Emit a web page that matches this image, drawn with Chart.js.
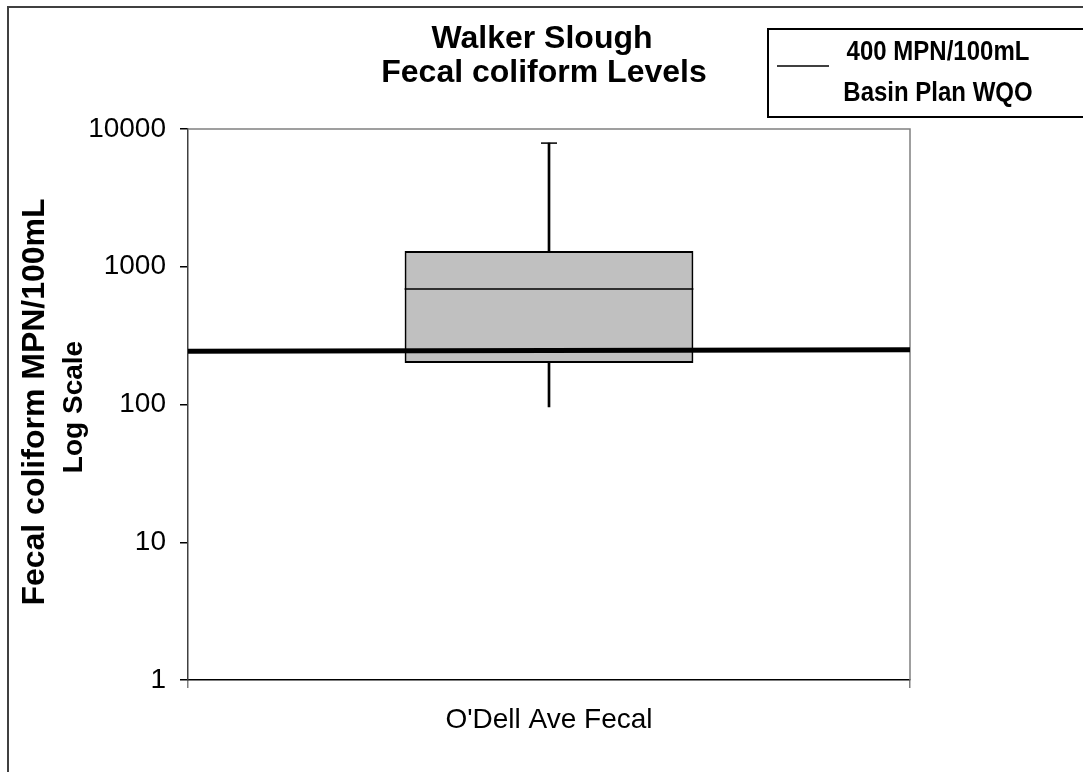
<!DOCTYPE html>
<html lang="en">
<head>
  <meta charset="UTF-8">
  <title>Walker Slough Fecal coliform Levels</title>
  <script src="https://cdn.jsdelivr.net/npm/chart.js"></script>
  <style>
    html, body { margin: 0; padding: 0; background: #fff; }
    canvas { display: block; }
  </style>
</head>
<body>
  <canvas id="chart" width="1083" height="772"></canvas>

  <script>
    // data
    const categories = ["O'Dell Ave Fecal"];
    const whiskerLow = [96];
    const q1 = [200];
    const median = [690];
    const q3 = [1300];
    const whiskerHigh = [7900];
    const yTicks = [1, 10, 100, 1000, 10000];
    const wqoLine = [244, 250];   // thick line, left end / right end

    const FONT = 'Arial, "Liberation Sans", sans-serif';

    // frame, titles, legend box, median + whisker cap
    const decorations = {
      id: 'decorations',
      beforeDatasetsDraw(chart) {
        const { ctx, chartArea: a } = chart;
        ctx.save();
        ctx.strokeStyle = '#808080';
        ctx.lineWidth = 1.5;
        ctx.beginPath();
        ctx.moveTo(a.left, a.top);
        ctx.lineTo(a.right, a.top);
        ctx.lineTo(a.right, a.bottom);
        ctx.stroke();
        ctx.restore();
      },
      afterDatasetsDraw(chart) {
        const { ctx, scales } = chart;
        const meta = chart.getDatasetMeta(0);
        ctx.save();
        ctx.strokeStyle = '#000';
        ctx.lineWidth = 1.5;
        meta.data.forEach((bar, i) => {
          const half = bar.width / 2;
          const ym = scales.y.getPixelForValue(median[i]);
          ctx.beginPath();
          ctx.moveTo(bar.x - half, ym);
          ctx.lineTo(bar.x + half, ym);
          ctx.stroke();
          const yc = scales.y.getPixelForValue(whiskerHigh[i]);
          ctx.beginPath();
          ctx.moveTo(bar.x - 8, yc);
          ctx.lineTo(bar.x + 8, yc);
          ctx.stroke();
        });
        ctx.restore();
      },
      afterDraw(chart) {
        const { ctx } = chart;
        ctx.save();
        // outer frame
        ctx.strokeStyle = '#404040';
        ctx.lineWidth = 2;
        ctx.strokeRect(8, 7, 1200, 900);

        // title
        ctx.fillStyle = '#000';
        ctx.textAlign = 'center';
        ctx.textBaseline = 'alphabetic';
        ctx.font = 'bold 32px ' + FONT;
        ctx.fillText('Walker Slough', 542, 48);
        ctx.fillText('Fecal coliform Levels', 544, 82);

        // legend box
        ctx.strokeStyle = '#000';
        ctx.lineWidth = 2;
        ctx.strokeRect(768, 29, 340, 88);
        ctx.lineWidth = 1.5;
        ctx.beginPath();
        ctx.moveTo(777, 66);
        ctx.lineTo(829, 66);
        ctx.stroke();
        ctx.font = 'bold 24px ' + FONT;
        [['400 MPN/100mL', 60], ['Basin Plan WQO', 101]].forEach(([t, y]) => {
          ctx.save();
          ctx.translate(938, y);
          ctx.scale(1, 1.15);
          ctx.fillText(t, 0, 0);
          ctx.restore();
        });

        // y axis title
        ctx.save();
        ctx.translate(44, 402);
        ctx.rotate(-Math.PI / 2);
        ctx.font = 'bold 32px ' + FONT;
        ctx.fillText('Fecal coliform MPN/100mL', 0, 0);
        ctx.restore();
        ctx.save();
        ctx.translate(82, 407);
        ctx.rotate(-Math.PI / 2);
        ctx.font = 'bold 28px ' + FONT;
        ctx.fillText('Log Scale', 0, 0);
        ctx.restore();

        ctx.restore();
      }
    };

    new Chart(document.getElementById('chart'), {
      data: {
        labels: categories,
        datasets: [
          {
            type: 'bar',
            label: 'box',
            data: q1.map((v, i) => [v, q3[i]]),
            backgroundColor: '#c0c0c0',
            borderColor: '#000',
            borderWidth: 2,
            borderSkipped: false,
            barPercentage: 0.4,
            categoryPercentage: 1,
            grouped: false,
            order: 1
          },
          {
            type: 'bar',
            label: 'whisker',
            data: whiskerLow.map((v, i) => [v, whiskerHigh[i]]),
            backgroundColor: '#000',
            barThickness: 2,
            grouped: false,
            order: 2
          },
          {
            type: 'line',
            label: '400 MPN/100mL Basin Plan WQO',
            xAxisID: 'x2',
            data: wqoLine.map((v, i) => ({ x: i, y: v })),
            borderColor: '#000',
            borderWidth: 5,
            pointRadius: 0,
            tension: 0,
            order: 0
          }
        ]
      },
      options: {
        responsive: false,
        animation: false,
        devicePixelRatio: 1,
        layout: { padding: { top: 129, right: 173, left: 0, bottom: 0 } },
        plugins: {
          legend: { display: false },
          title: { display: false },
          tooltip: { enabled: false }
        },
        scales: {
          x: {
            type: 'category',
            offset: true,
            afterFit: s => { s.height = 92; },
            grid: {
              offset: true,
              drawOnChartArea: false,
              drawTicks: true,
              tickLength: 8,
              color: '#808080',
              lineWidth: 1.5
            },
            border: { color: '#000', width: 1.5 },
            ticks: {
              color: '#000',
              padding: 15,
              font: { family: FONT, size: 28 }
            }
          },
          x2: {
            type: 'linear',
            min: 0,
            max: 1,
            display: false
          },
          y: {
            type: 'logarithmic',
            min: 1,
            max: 10000,
            afterFit: s => { s.width = 188; },
            afterBuildTicks: s => { s.ticks = yTicks.map(v => ({ value: v })); },
            grid: {
              drawOnChartArea: false,
              drawTicks: true,
              tickLength: 8,
              color: '#000',
              lineWidth: 1.5
            },
            border: { color: '#404040', width: 1.5 },
            ticks: {
              color: '#000',
              padding: 14,
              font: { family: FONT, size: 28 },
              callback: v => String(v)
            }
          }
        }
      },
      plugins: [decorations]
    });
  </script>
</body>
</html>
